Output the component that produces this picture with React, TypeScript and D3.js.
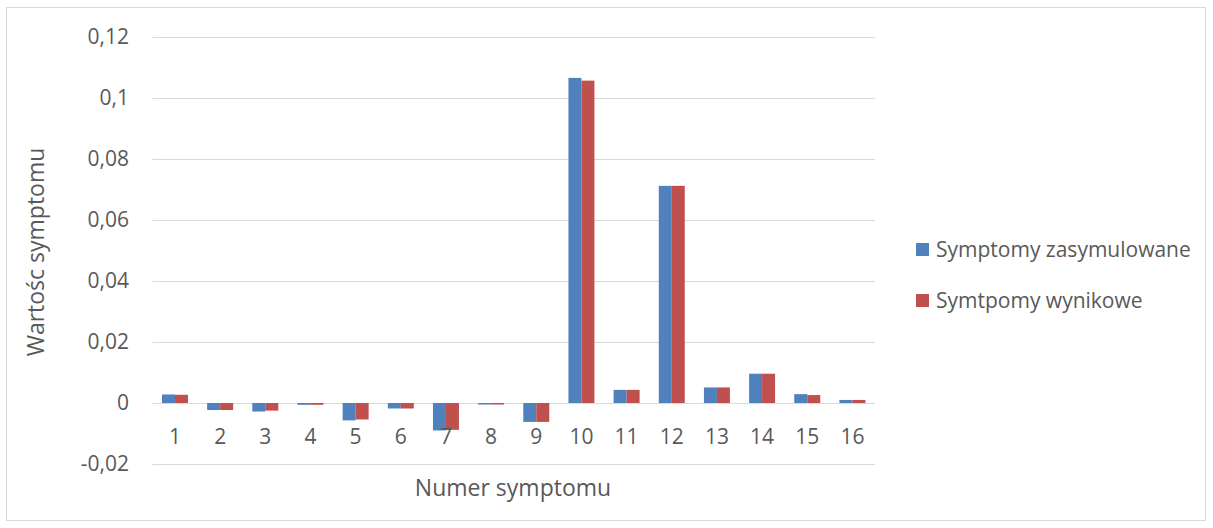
import React from "react";
import * as d3 from "d3";

const categories = ["1","2","3","4","5","6","7","8","9","10","11","12","13","14","15","16"];
const seriesNames = ["Symptomy zasymulowane", "Symtpomy wynikowe"];
const simulated = [0.0028,-0.0023,-0.0028,-0.0006,-0.0057,-0.0018,-0.0090,-0.0005,-0.0062,0.1066,0.0043,0.0712,0.0051,0.0096,0.0029,0.0010];
const resulting = [0.0027,-0.0023,-0.0025,-0.0006,-0.0054,-0.0018,-0.0088,-0.0005,-0.0062,0.1057,0.0043,0.0712,0.0051,0.0096,0.0026,0.0010];
const yTicks = [-0.02,0,0.02,0.04,0.06,0.08,0.1,0.12];
const colors = ["#4f81bd", "#c0504d"];

const FONT = "'Open Sans', sans-serif";

export default function App() {
  const W = 1213, H = 528;
  const left = 152.4, right = 875, top = 37, bottom = 464;
  const x = d3.scaleBand<string>().domain(categories).range([left, right]).paddingInner(0).paddingOuter(0);
  const y = d3.scaleLinear().domain([-0.02, 0.12]).range([bottom, top]);
  const bw = 13;
  const series = [simulated, resulting];
  const fmt = (v: number) => String(+v.toFixed(2)).replace(".", ",");
  return (
    <svg width={W} height={H} style={{ position: "absolute", left: 0, top: 0, fontFamily: FONT }}>
      <rect x={6.5} y={7.5} width={1199} height={513} fill="#fff" stroke="#d9d9d9" strokeWidth={1} />
      {yTicks.map((t) => (
        <g key={t}>
          <line x1={left} x2={right} y1={Math.round(y(t)) + 0.5} y2={Math.round(y(t)) + 0.5} stroke="#d9d9d9" strokeWidth={1} />
          <text x={129} y={y(t)} dy="0.35em" textAnchor="end" fontSize={21} fill="#595959">{fmt(t)}</text>
        </g>
      ))}
      {series.map((vals, si) =>
        vals.map((v, i) => {
          const cx = x(categories[i])! + x.bandwidth() / 2;
          const x0 = si === 0 ? cx - bw : cx;
          const y0 = y(Math.max(0, v));
          const h = Math.abs(y(v) - y(0));
          return <rect key={si + "-" + i} x={x0} y={y0} width={bw} height={h} fill={colors[si]} />;
        })
      )}
      {categories.map((c) => (
        <text key={c} x={x(c)! + x.bandwidth() / 2} y={437} dy="0.35em" textAnchor="middle" fontSize={21} fill="#595959">{c}</text>
      ))}
      <text x={513} y={488} dy="0.35em" textAnchor="middle" fontSize={23} fill="#595959">Numer symptomu</text>
      <text transform={`translate(36,252) rotate(-90)`} textAnchor="middle" dy="0.35em" fontSize={23} fill="#595959">Wartośc symptomu</text>
      {seriesNames.map((n, i) => (
        <g key={n} transform={`translate(916,${243 + i * 51})`}>
          <rect x={0} y={0} width={13} height={13} fill={colors[i]} />
          <text x={20} y={6.5} dy="0.35em" fontSize={21} fill="#595959">{n}</text>
        </g>
      ))}
    </svg>
  );
}
